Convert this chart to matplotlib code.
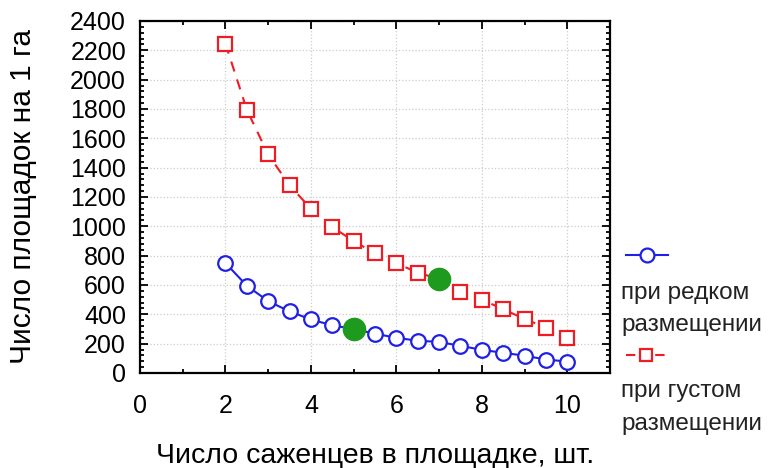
import matplotlib.pyplot as plt
from matplotlib.lines import Line2D
from matplotlib.ticker import MultipleLocator

plt.rcParams['font.family'] = ['Liberation Sans', 'DejaVu Sans']

# data
x_vals = [2, 2.5, 3, 3.5, 4, 4.5, 5, 5.5, 6, 6.5, 7, 7.5, 8, 8.5, 9, 9.5, 10]
sparse = [750, 595, 490, 420, 365, 325, 300, 268, 240, 220, 212, 185, 158, 138, 118, 92, 78]
dense = [2245, 1795, 1490, 1280, 1120, 995, 900, 815, 748, 685, 640, 555, 500, 435, 368, 310, 240]
green_x = [5, 7]
green_y = [300, 640]

sparse_lines = ['при редком', 'размещении']
dense_lines = ['при густом', 'размещении']

W, H = 775, 468
fig = plt.figure(figsize=(W / 100, H / 100), dpi=100)
ax = fig.add_axes([140 / W, 1 - 373 / H, 470 / W, 352 / H])

blue = '#1f1fe6'
red = '#ee1c24'
ax.plot(x_vals, sparse, color=blue, lw=1.5, marker='o', ms=10.5,
        mfc='white', mec=blue, mew=1.6, zorder=3)
ax.plot(x_vals, dense, color=red, lw=1.5, ls=(0, (5, 4)), marker='s', ms=9.5,
        mfc='white', mec=red, mew=1.6, zorder=3)
ax.plot(green_x, green_y, 'o', color='#1e9b1e', ms=16, zorder=4, ls='none')

ax.set_xlim(0, 11)
ax.set_ylim(0, 2400)
ax.xaxis.set_major_locator(MultipleLocator(2))
ax.xaxis.set_minor_locator(MultipleLocator(1))
ax.yaxis.set_major_locator(MultipleLocator(200))
ax.yaxis.set_minor_locator(MultipleLocator(40))
ax.tick_params(which='both', direction='in', top=True, right=True, labelsize=18, width=1.3)
ax.tick_params(which='major', length=6)
ax.tick_params(which='minor', length=3)
ax.tick_params(axis='x', pad=15)
ax.tick_params(axis='y', pad=10)
for s in ax.spines.values():
    s.set_linewidth(1.6)
ax.grid(True, which='major', color='#cccccc', ls=':', lw=0.9)

ax.set_xlabel('Число саженцев в площадке, шт.', fontsize=20.5, labelpad=18)
ax.set_ylabel('Число площадок на 1 га', fontsize=21.5, labelpad=24)


def fy(py):
    return 1 - py / H


# legend outside the axes, handle above each label
fig.add_artist(Line2D([626 / W, 668 / W], [fy(255)] * 2, transform=fig.transFigure,
                      color=blue, lw=1.5))
fig.add_artist(Line2D([647 / W], [fy(255)], transform=fig.transFigure, marker='o', ms=10,
                      mfc='white', mec=blue, mew=1.6, ls='none'))
fig.add_artist(Line2D([626 / W, 666 / W], [fy(355)] * 2, transform=fig.transFigure,
                      color=red, lw=1.5, ls=(0, (4.5, 9.5))))
fig.add_artist(Line2D([646 / W], [fy(355)], transform=fig.transFigure, marker='s', ms=9,
                      mfc='white', mec=red, mew=1.6, ls='none'))
for txt, py in zip(sparse_lines + dense_lines, [299, 331, 397, 430]):
    fig.text(621 / W, fy(py), txt, fontsize=17.5, va='baseline', color='#222222')

fig.savefig('out.png', dpi=100)
